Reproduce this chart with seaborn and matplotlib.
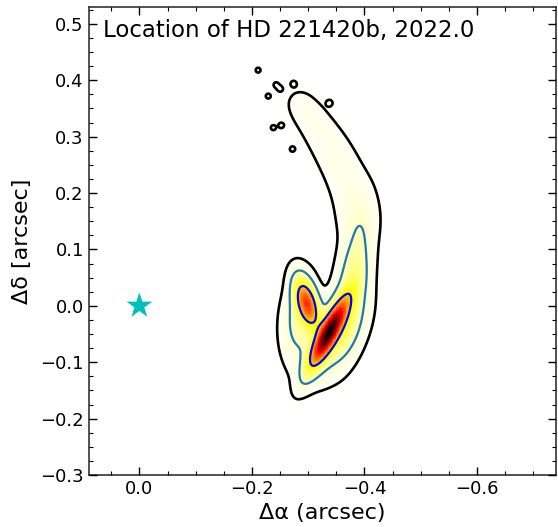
import numpy as np
import matplotlib
matplotlib.use("Agg")
import matplotlib.pyplot as plt
import seaborn as sns

# Posterior model for the companion's offset: elliptical Gaussian lobes
# (centre x, centre y, major sigma, minor sigma, angle of major axis [deg], peak height)
lobe_x = [-0.337, -0.298, -0.345, -0.380, -0.284]
lobe_y = [-0.047, 0.004, -0.052, 0.045, -0.024]
lobe_major = [0.042, 0.028, 0.046, 0.066, 0.043]
lobe_minor = [0.0105, 0.0115, 0.024, 0.017, 0.018]
lobe_angle = [117, 74, 117, 98, 95]
lobe_peak = [0.78, 0.47, 0.13, 0.11, 0.08]

# Faint tail of orbits curving towards the north
arc_x = [-0.387, -0.386, -0.383, -0.378, -0.371, -0.362, -0.352, -0.341,
         -0.328, -0.315, -0.302, -0.290, -0.281]
arc_y = [0.140, 0.160, 0.180, 0.200, 0.220, 0.240, 0.260, 0.280,
         0.300, 0.320, 0.338, 0.352, 0.366]
arc_sigma = [0.024, 0.024, 0.024, 0.024, 0.024, 0.024, 0.024, 0.024,
             0.023, 0.022, 0.021, 0.020, 0.018]
arc_peak = [0.009, 0.009, 0.009, 0.009, 0.009, 0.009, 0.009, 0.009,
            0.009, 0.0085, 0.008, 0.007, 0.006]

# Isolated specks around the tip of the tail
speck_x = [-0.211, -0.274, -0.229, -0.238, -0.252, -0.272, -0.338, -0.250,
           -0.243]
speck_y = [0.418, 0.394, 0.372, 0.316, 0.320, 0.278, 0.360, 0.385, 0.392]

star_x = [0.0]
star_y = [0.0]

title = "Location of HD 221420b, 2022.0"
levels_frac = [0.009, 0.06, 0.30]
level_colors = ["black", "#1f77b4", "blue"]

xlim = (0.09, -0.74)
ylim = (-0.30, 0.53)

sns.set_style("ticks")
plt.rcParams["font.family"] = ["DejaVu Sans"]
plt.rcParams["text.color"] = "black"
plt.rcParams["axes.labelcolor"] = "black"
plt.rcParams["xtick.labelcolor"] = "black"
plt.rcParams["ytick.labelcolor"] = "black"

gx = np.linspace(xlim[0], xlim[1], 600)
gy = np.linspace(ylim[0], ylim[1], 600)
X, Y = np.meshgrid(gx, gy)
Z = np.zeros_like(X)
for cx, cy, sa, sb, ang, amp in zip(lobe_x, lobe_y, lobe_major, lobe_minor,
                                     lobe_angle, lobe_peak):
    t = np.deg2rad(ang)
    u = (X - cx) * np.cos(t) + (Y - cy) * np.sin(t)
    v = -(X - cx) * np.sin(t) + (Y - cy) * np.cos(t)
    Z += amp * np.exp(-0.5 * ((u / sa) ** 2 + (v / sb) ** 2))
for cx, cy, s, amp in zip(arc_x, arc_y, arc_sigma, arc_peak):
    Z += amp * np.exp(-0.5 * ((X - cx) ** 2 + (Y - cy) ** 2) / s ** 2)
for cx, cy in zip(speck_x, speck_y):
    Z += 0.013 * np.exp(-0.5 * ((X - cx) ** 2 + (Y - cy) ** 2) / 0.0045 ** 2)
Z /= Z.max()

fig = plt.figure(figsize=(5.58, 5.27), dpi=100)
ax = fig.add_axes([0.159, 0.0987, 0.837, 0.888])
ax.set_axisbelow(False)

ax.pcolormesh(X, Y, Z, cmap="hot_r", vmin=0, vmax=1, shading="auto",
              rasterized=True)
ax.contour(X, Y, Z, levels=levels_frac, colors=level_colors,
           linewidths=[1.9, 1.6, 1.6])

sns.scatterplot(x=star_x, y=star_y, marker="*", s=380, color="c",
                edgecolor="none", ax=ax, zorder=5)

ax.set_xlim(*xlim)
ax.set_ylim(*ylim)
ax.set_aspect("auto")

ax.text(0.03, 0.975, title, transform=ax.transAxes, ha="left", va="top",
        fontsize=16.5)
ax.set_xlabel("Δα (arcsec)", fontsize=16)
ax.set_ylabel("Δδ [arcsec]", fontsize=16, labelpad=6)

ax.set_xticks([0.0, -0.2, -0.4, -0.6])
ax.set_yticks([-0.3, -0.2, -0.1, 0.0, 0.1, 0.2, 0.3, 0.4, 0.5])
ax.xaxis.set_minor_locator(matplotlib.ticker.MultipleLocator(0.05))
ax.yaxis.set_minor_locator(matplotlib.ticker.MultipleLocator(0.025))
ax.tick_params(which="both", direction="in", top=True, right=True,
               labelsize=13, color="black")
ax.tick_params(which="major", length=6, width=1.0)
ax.tick_params(which="minor", length=3, width=0.8)
for sp in ax.spines.values():
    sp.set_color("#333333")
    sp.set_linewidth(1.2)

fig.savefig("out.png", dpi=100)
